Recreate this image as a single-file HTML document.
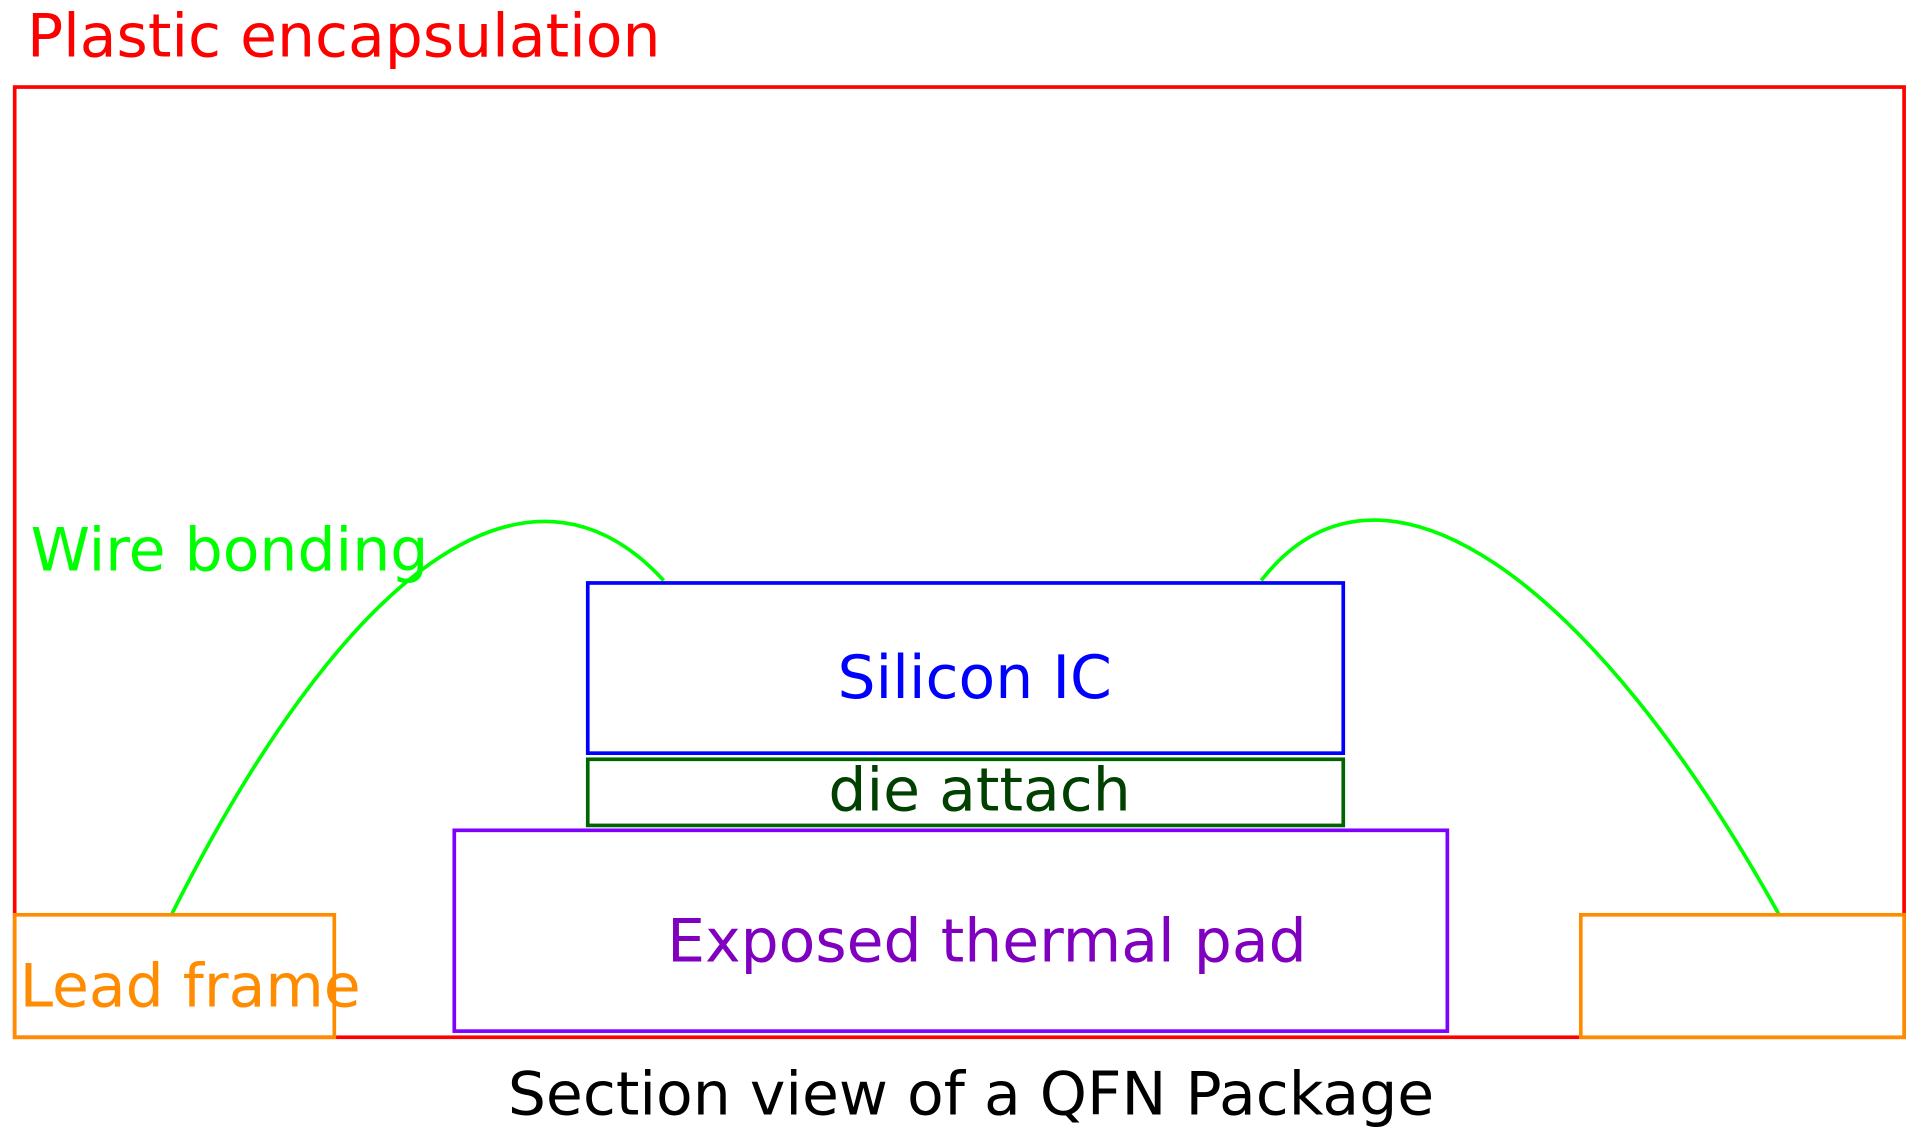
<!DOCTYPE html>
<html><head><meta charset="utf-8"><style>html,body{margin:0;padding:0;background:#fff}svg{display:block}</style></head>
<body>
<svg width="1920" height="1139" viewBox="0 0 1568 930" xmlns="http://www.w3.org/2000/svg" font-family="'DejaVu Sans','Liberation Sans',sans-serif" font-size="49">
<rect x="0" y="0" width="1568" height="930" fill="#fff"/>
<rect x="12" y="71" width="1543" height="776" fill="none" stroke="#ff0000" stroke-width="3"/>
<text x="22" y="46" fill="#ff0000">Plastic encapsulation</text>
<path d="M140 747 C 280 468, 430 352, 542 474" fill="none" stroke="#00ff00" stroke-width="3"/>
<path d="M1030 474 C 1128 348, 1300 472, 1453 747" fill="none" stroke="#00ff00" stroke-width="3"/>
<text x="25" y="466" fill="#00ff00">Wire bonding</text>
<rect x="480" y="476" width="617" height="139" fill="#fff" stroke="#0000ff" stroke-width="3"/>
<text x="796" y="570" fill="#0000ff" text-anchor="middle">Silicon IC</text>
<rect x="480" y="620" width="617" height="54" fill="#fff" stroke="#006400" stroke-width="3"/>
<text x="800" y="662" fill="#004000" text-anchor="middle">die attach</text>
<rect x="371" y="678" width="811" height="164" fill="#fff" stroke="#8000ff" stroke-width="3"/>
<text x="806" y="785" fill="#7f00bf" text-anchor="middle">Exposed thermal pad</text>
<rect x="12" y="747" width="261" height="100" fill="none" stroke="#ff8c00" stroke-width="3"/>
<rect x="1291" y="747" width="264" height="100" fill="#fff" stroke="#ff8c00" stroke-width="3"/>
<text x="16" y="822" fill="#ff8c00">Lead frame</text>
<text x="793" y="910" fill="#000" text-anchor="middle">Section view of a QFN Package</text>
</svg>
</body></html>
